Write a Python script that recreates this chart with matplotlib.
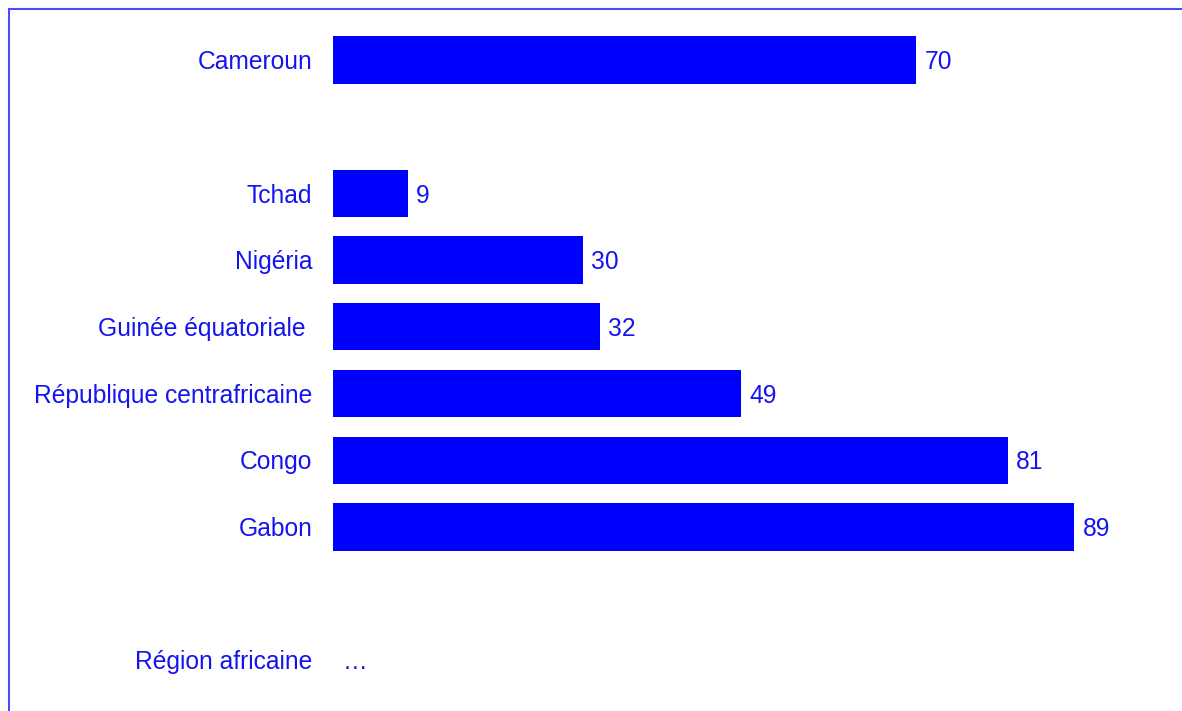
import matplotlib
matplotlib.use("Agg")
import matplotlib.pyplot as plt
from matplotlib.patches import Rectangle

categories = ["Cameroun", "", "Tchad", "Nigéria", "Guinée équatoriale ",
              "République centrafricaine", "Congo", "Gabon", "", "Région africaine"]
values = [70, None, 9, 30, 32, 49, 81, 89, None, None]
value_labels = ["70", "", "9", "30", "32", "49", "81", "89", "", "…"]

BAR = "#0000FF"
TEXT = "#1414f0"
FRAME = "#4a4aff"
FS = 17.7

plt.rcParams["font.family"] = ["Liberation Sans", "DejaVu Sans"]

W, H = 1182, 711
fig = plt.figure(figsize=(W / 100, H / 100), dpi=100)
fig.patch.set_facecolor("white")

ax = fig.add_axes([333 / W, 0, 833 / W, 1])
ax.set_xlim(0, 100)
ax.set_ylim(9.76, -0.9)
ax.axis("off")

for i, (cat, v, lab) in enumerate(zip(categories, values, value_labels)):
    if v is not None:
        ax.barh(i, v, height=0.71, color=BAR, edgecolor="none")
        ax.annotate(lab, xy=(v, i), xytext=(6, -1.5), textcoords="offset points",
                    ha="left", va="center", fontsize=FS, color=TEXT)
    elif lab:
        ax.annotate(lab, xy=(0, i), xytext=(7, -1.5), textcoords="offset points",
                    ha="left", va="center", fontsize=FS, color=TEXT)
    if cat:
        ax.annotate(cat, xy=(0, i), xytext=(-15, -1.5), textcoords="offset points",
                    ha="right", va="center", fontsize=FS, color=TEXT)

fig.patches.append(Rectangle((8.5 / W, -0.1), 1.2, 1 - 8.5 / H + 0.1,
                             transform=fig.transFigure, fill=False,
                             edgecolor=FRAME, linewidth=1.5))

fig.savefig("out.png", dpi=100, facecolor="white")
